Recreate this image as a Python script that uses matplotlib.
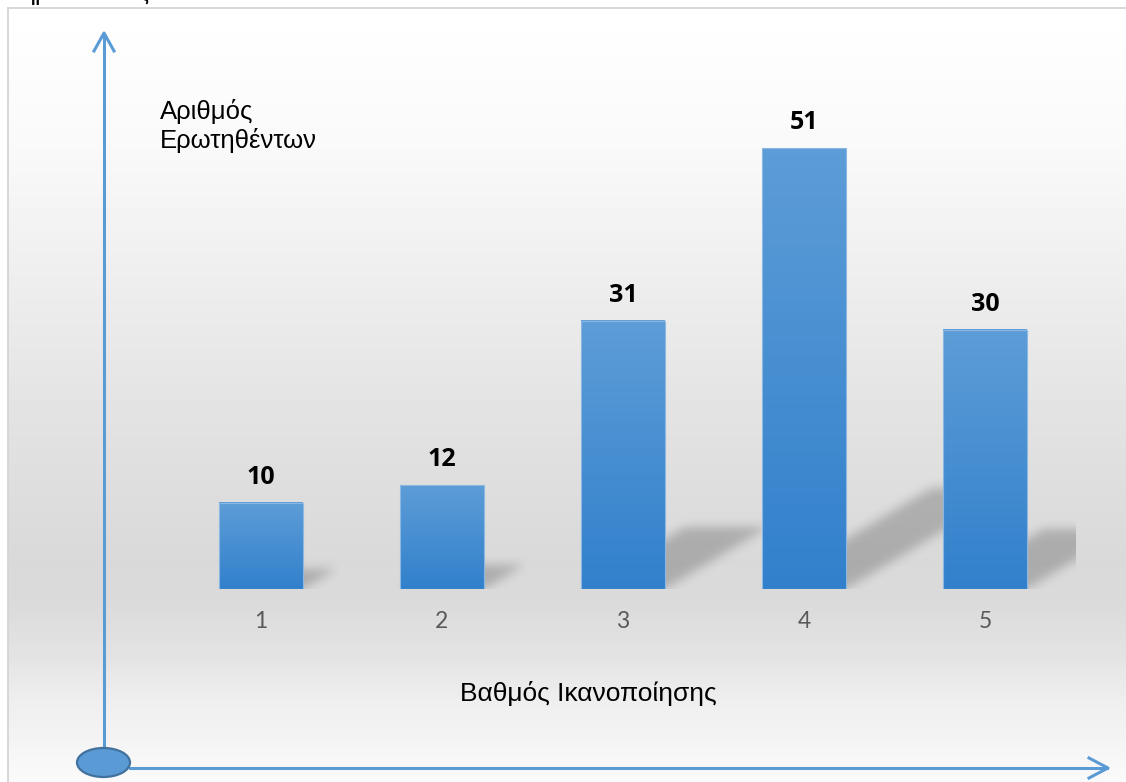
import numpy as np
import matplotlib.pyplot as plt
from matplotlib.patches import Ellipse

# survey results: satisfaction score vs number of respondents
ratings = [1, 2, 3, 4, 5]
counts = [10, 12, 31, 51, 30]
tick_labels = ['1', '2', '3', '4', '5']
y_title = ['Αριθμός', 'Ερωτηθέντων']
x_title = 'Βαθμός Ικανοποίησης'

W, H = 1126, 782
fig = plt.figure(figsize=(W / 100, H / 100), dpi=100)

# full-figure layer in pixel units (y pointing down) for background, arrows, titles
bg = fig.add_axes([0, 0, 1, 1])
bg.set_xlim(0, W)
bg.set_ylim(H, 0)
bg.axis('off')

# vertical grey gradient of the chart area
rows = np.arange(8, H) + 0.5
shade = np.interp(rows, [8, 150, 300, 450, 560, 600, 650, 700, 782],
                  [255, 249, 236, 224, 217, 218, 226, 238, 250]) / 255.0
bg.imshow(np.repeat(shade[:, None], 2, axis=1), cmap='gray', vmin=0, vmax=1,
          extent=(8, W, H, 8), aspect='auto', zorder=0)
bg.plot([8, 8], [8, H], color='#d4d4d4', lw=1.3, zorder=1)
bg.plot([8, W], [8, 8], color='#d4d4d4', lw=1.3, zorder=1)

# bar chart
ax = fig.add_axes([170.5 / W, (H - 589) / H, 905 / W, (589 - 70.2) / H])
ax.set_zorder(1)
ax.patch.set_alpha(0)
for s in ax.spines.values():
    s.set_visible(False)

bars = ax.bar(ratings, counts, width=0.46, color='none', edgecolor='#8ab8e3',
              lw=0.8, zorder=3)
top_c = np.array([93, 157, 215]) / 255.0
bot_c = np.array([50, 128, 204]) / 255.0
t = np.linspace(0, 1, 64)[:, None, None]
bar_grad = top_c * (1 - t) + bot_c * t
for b in bars:
    ax.imshow(bar_grad, extent=[b.get_x(), b.get_x() + b.get_width(), 0, b.get_height()],
              aspect='auto', zorder=2)
ax.set_xlim(0.5, 5.5)
ax.set_ylim(0, 60)

for x, v in zip(ratings, counts):
    ax.annotate(str(v), (x, v), xytext=(0, 13.5), textcoords='offset points',
                ha='center', va='baseline', fontsize=18, fontweight='bold',
                family='Open Sans', color='black')

ax.set_xticks(ratings, tick_labels)
ax.set_yticks([])
ax.tick_params(axis='x', length=0, pad=16, labelsize=16.5, labelcolor='#595959')
for lab in ax.get_xticklabels():
    lab.set_family('Lato')

# soft shadows thrown behind the bars towards the upper right
X, Y = np.meshgrid(np.arange(W) + 0.5, np.arange(H) + 0.5)
sh = np.zeros((H, W))
for b in bars:
    x0, y0 = ax.transData.transform((b.get_x(), 0))
    x1, y1 = ax.transData.transform((b.get_x() + b.get_width(), b.get_height()))
    yb, yt = H - y0, H - y1
    h = yb - yt
    dx, dy = 0.385 * h, 0.23 * h
    tt = (yb - Y) / dy
    xs = X - tt * dx
    mask = (tt >= 0) & (tt <= 1) & (xs >= x0) & (xs <= x1)
    sh = np.maximum(sh, mask.astype(float))
k = np.exp(-0.5 * (np.arange(-15, 16) / 5.0) ** 2)
k /= k.sum()
sh = np.apply_along_axis(lambda r: np.convolve(r, k, mode='same'), 1, sh)
sh = np.apply_along_axis(lambda c: np.convolve(c, k, mode='same'), 0, sh)
sh[Y > yb] = 0
sh[X > ax.get_position().x1 * W] = 0
shadow = np.zeros((H, W, 4))
shadow[..., 3] = 0.21 * sh
bg.imshow(shadow, extent=(0, W, H, 0), aspect='auto', zorder=2)

# axis arrows with the origin ellipse
blue = '#5b9bd5'
bg.plot([104, 104], [748, 34], color=blue, lw=2.2, zorder=4)
bg.plot([94, 104, 114], [51, 33, 51], color=blue, lw=2.2, zorder=4)
bg.plot([130, 1107], [768, 768], color=blue, lw=2.2, zorder=4)
bg.plot([1089, 1108, 1089], [758, 768, 778], color=blue, lw=2.2, zorder=4)
bg.add_patch(Ellipse((103.5, 762.5), 53, 29, facecolor=blue, edgecolor='#41719c',
                     lw=1.6, zorder=5))

# axis titles
bg.text(160, 119, y_title[0], fontsize=18.5, family='Liberation Sans', va='baseline', zorder=6)
bg.text(160, 148, y_title[1], fontsize=18.5, family='Liberation Sans', va='baseline', zorder=6)
bg.text(588, 701, x_title, fontsize=19, family='Liberation Sans', ha='center',
        va='baseline', zorder=6)

# caption line above the chart, mostly cut off at the top edge
bg.text(22, 0, 'ημ', fontsize=18, family='Liberation Sans', va='baseline', zorder=6)
bg.text(137, 0, 'ς', fontsize=18, family='Liberation Sans', va='baseline', zorder=6)

fig.savefig('out.png', dpi=100)
